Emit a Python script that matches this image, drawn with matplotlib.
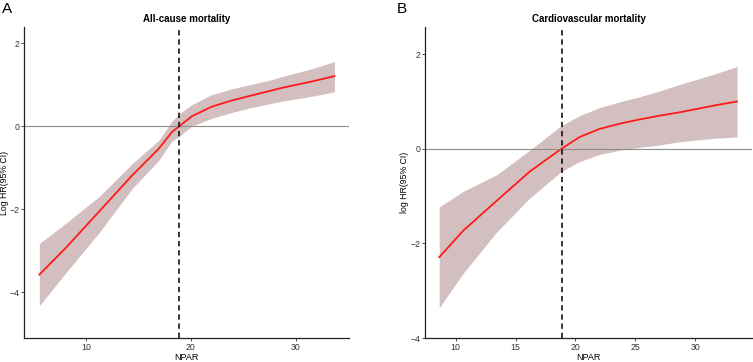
import numpy as np
import matplotlib
matplotlib.use('Agg')
import matplotlib.pyplot as plt

plt.rcParams['font.family'] = ['Liberation Sans', 'DejaVu Sans']

# Panel A: all-cause mortality
npar_a = [5.57, 8.14, 11.29, 14.43, 16.95, 18.2, 18.9, 20.09, 21.98, 23.87, 25.75, 27.64, 28.58, 31.7, 33.68]
hr_a = [-3.58, -2.92, -2.05, -1.18, -0.54, -0.14, 0.0, 0.24, 0.47, 0.62, 0.74, 0.86, 0.92, 1.09, 1.21]
upper_a = [-2.83, -2.33, -1.69, -0.90, -0.34, 0.12, 0.30, 0.52, 0.76, 0.90, 1.01, 1.12, 1.19, 1.40, 1.56]
lower_a = [-4.33, -3.52, -2.56, -1.50, -0.82, -0.36, -0.24, 0.0, 0.19, 0.33, 0.45, 0.55, 0.60, 0.73, 0.83]
cut_a = 18.87

# Panel B: cardiovascular mortality
npar_b = [8.63, 10.63, 13.42, 16.19, 18.83, 20.36, 22.02, 23.69, 25.36, 27.03, 28.7, 31.5, 33.5]
hr_b = [-2.29, -1.73, -1.10, -0.48, 0.0, 0.25, 0.42, 0.53, 0.62, 0.70, 0.77, 0.91, 1.0]
upper_b = [-1.23, -0.90, -0.55, -0.03, 0.49, 0.70, 0.87, 0.99, 1.10, 1.22, 1.36, 1.57, 1.74]
lower_b = [-3.36, -2.63, -1.76, -1.04, -0.48, -0.27, -0.12, -0.03, 0.03, 0.08, 0.15, 0.22, 0.25]
cut_b = 18.86

fig = plt.figure(figsize=(7.53, 3.62), dpi=100)
ax_a = fig.add_axes([0.032, 0.066, 0.432, 0.859])
ax_b = fig.add_axes([0.5644, 0.066, 0.4343, 0.859])

panels = [
    (ax_a, npar_a, hr_a, upper_a, lower_a, cut_a, 'All-cause mortality', 'Log HR(95% CI)',
     (4.12, 35.1), (-5.11, 2.39), [10, 20, 30], [-4, -2, 0, 2], -0.047),
    (ax_b, npar_b, hr_b, upper_b, lower_b, cut_b, 'Cardiovascular mortality', 'log HR(95% CI)',
     (7.44, 34.75), (-4.0, 2.57), [10, 15, 20, 25, 30], [-4, -2, 0, 2], -0.049),
]

for ax, x, y, up, lo, cut, title, ylab, xlim, ylim, xt, yt, ylx in panels:
    ax.fill_between(x, lo, up, color='#d4bfc0', linewidth=0)
    ax.plot(x, y, color='#ff1a1a', lw=1.3)
    ax.axhline(0, color='#8c8c8c', lw=0.8)
    ax.axvline(cut, color='black', lw=1.1, ls=(0, (3.5, 2.5)))
    ax.set_xlim(*xlim)
    ax.set_ylim(*ylim)
    ax.set_xticks(xt)
    ax.set_yticks(yt)
    ax.tick_params(labelsize=6.3, length=2, width=0.6, pad=1.5, colors='#333333')
    for s in ['top', 'right']:
        ax.spines[s].set_visible(False)
    for s in ['left', 'bottom']:
        ax.spines[s].set_linewidth(0.9)
        ax.spines[s].set_color('#222222')
    ax.set_title(title, fontsize=7, fontweight='bold', pad=4)
    ax.set_xlabel('NPAR', fontsize=6.5, labelpad=0.5)
    ax.set_ylabel(ylab, fontsize=6.3)
    ax.yaxis.set_label_coords(ylx, 0.5)

fig.text(0.003, 0.995, 'A', fontsize=11, va='top', ha='left')
fig.text(0.527, 0.995, 'B', fontsize=11, va='top', ha='left')

fig.savefig('out.png', dpi=100)
